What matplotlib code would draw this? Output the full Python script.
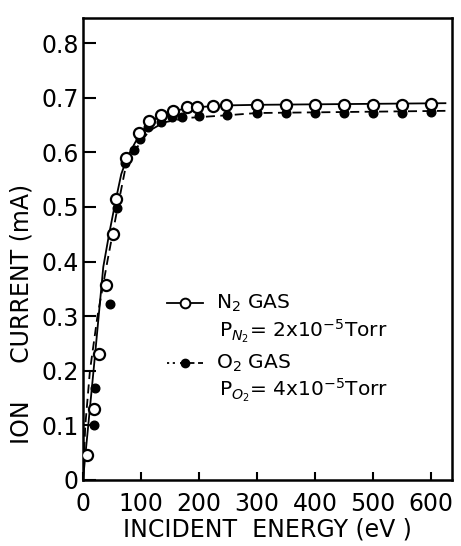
import matplotlib.pyplot as plt
from matplotlib.ticker import FixedLocator

# measured points, open circles: N2 gas
n2_energy = [7, 19, 28, 40, 52, 57, 75, 97, 114, 135, 155, 180, 197, 225, 246,
             300, 350, 400, 450, 500, 550, 600]
n2_current = [0.046, 0.13, 0.23, 0.357, 0.45, 0.515, 0.59, 0.636, 0.658, 0.668,
              0.676, 0.683, 0.683, 0.685, 0.686,
              0.687, 0.687, 0.687, 0.687, 0.687, 0.687, 0.688]

# measured points, filled circles: O2 gas
o2_energy = [19, 21, 47, 59, 73, 88, 99, 112, 135, 154, 171, 200, 249,
             300, 350, 400, 450, 500, 550, 600]
o2_current = [0.10, 0.168, 0.322, 0.498, 0.58, 0.604, 0.624, 0.647, 0.656, 0.665,
              0.665, 0.667, 0.668,
              0.672, 0.672, 0.672, 0.672, 0.672, 0.672, 0.673]

# hand-drawn trend curves through each set
n2_fit_energy = [0, 20, 35, 45, 57, 66, 76, 90, 100, 115, 135, 160, 200, 250, 300, 625]
n2_fit_current = [0, 0.22, 0.39, 0.45, 0.515, 0.56, 0.59, 0.618, 0.635, 0.655,
                  0.668, 0.677, 0.683, 0.686, 0.687, 0.690]
o2_fit_energy = [0, 4, 12, 25, 42, 59, 73, 88, 100, 115, 140, 180, 250, 300, 625]
o2_fit_current = [0, 0.10, 0.20, 0.30, 0.40, 0.495, 0.57, 0.60, 0.62, 0.64,
                  0.655, 0.663, 0.668, 0.672, 0.676]

x_ticks = [0, 100, 200, 300, 400, 500, 600]
y_ticks = [0, 0.1, 0.2, 0.3, 0.4, 0.5, 0.6, 0.7, 0.8]
y_tick_labels = ['0', '0.1', '0.2', '0.3', '0.4', '0.5', '0.6', '0.7', '0.8']

plt.rcParams['font.family'] = 'DejaVu Sans'

fig = plt.figure(figsize=(4.61, 5.46), dpi=100)
ax = fig.add_axes([0.180, 0.121, 0.800, 0.846])

ax.plot(n2_fit_energy, n2_fit_current, color='black', lw=1.3, zorder=2)
ax.plot(o2_fit_energy, o2_fit_current, color='black', lw=1.3,
        dashes=(5, 3), zorder=2)
ax.plot(o2_energy, o2_current, 'o', color='black', ms=6.2, zorder=3)
ax.plot(n2_energy, n2_current, 'o', mfc='white', mec='black', mew=1.6,
        ms=8, zorder=4)

ax.set_xlim(0, 636)
ax.set_ylim(0, 0.846)
ax.xaxis.set_major_locator(FixedLocator(x_ticks))
ax.yaxis.set_major_locator(FixedLocator(y_ticks))
ax.set_yticklabels(y_tick_labels)
ax.tick_params(direction='in', length=9, width=1.5, labelsize=17, pad=3)
ax.tick_params(axis='x', length=6, pad=9)
for s in ax.spines.values():
    s.set_linewidth(1.8)

ax.set_xlabel('INCIDENT  ENERGY (eV )', fontsize=17, labelpad=1)
ax.set_ylabel('ION     CURRENT (mA)', fontsize=17)
ax.yaxis.set_label_coords(-0.135, 0.36)

# key drawn inside the axes
tr = ax.transAxes
ky1, ky2 = 0.383, 0.253
ax.plot([0.228, 0.325], [ky1, ky1], color='black', lw=1.3, transform=tr)
ax.plot([0.2765], [ky1], 'o', mfc='white', mec='black', mew=1.4, ms=7,
        transform=tr)
ax.plot([0.228, 0.255], [ky2, ky2], color='black', lw=1.3,
        dashes=(1.2, 2), transform=tr)
ax.plot([0.262, 0.325], [ky2, ky2], color='black', lw=1.3,
        dashes=(3, 2), transform=tr)
ax.plot([0.2765], [ky2], 'o', color='black', ms=6, transform=tr)

ax.text(0.36, ky1, 'N$_2$ GAS', transform=tr, fontsize=14.5, va='center')
ax.text(0.37, 0.322, 'P$_{N_2}$= 2x10$^{-5}$Torr', transform=tr,
        fontsize=14.5, va='center')
ax.text(0.36, ky2, 'O$_2$ GAS', transform=tr, fontsize=14.5, va='center')
ax.text(0.37, 0.194, 'P$_{O_2}$= 4x10$^{-5}$Torr', transform=tr,
        fontsize=14.5, va='center')

fig.savefig('out.png', dpi=100)
